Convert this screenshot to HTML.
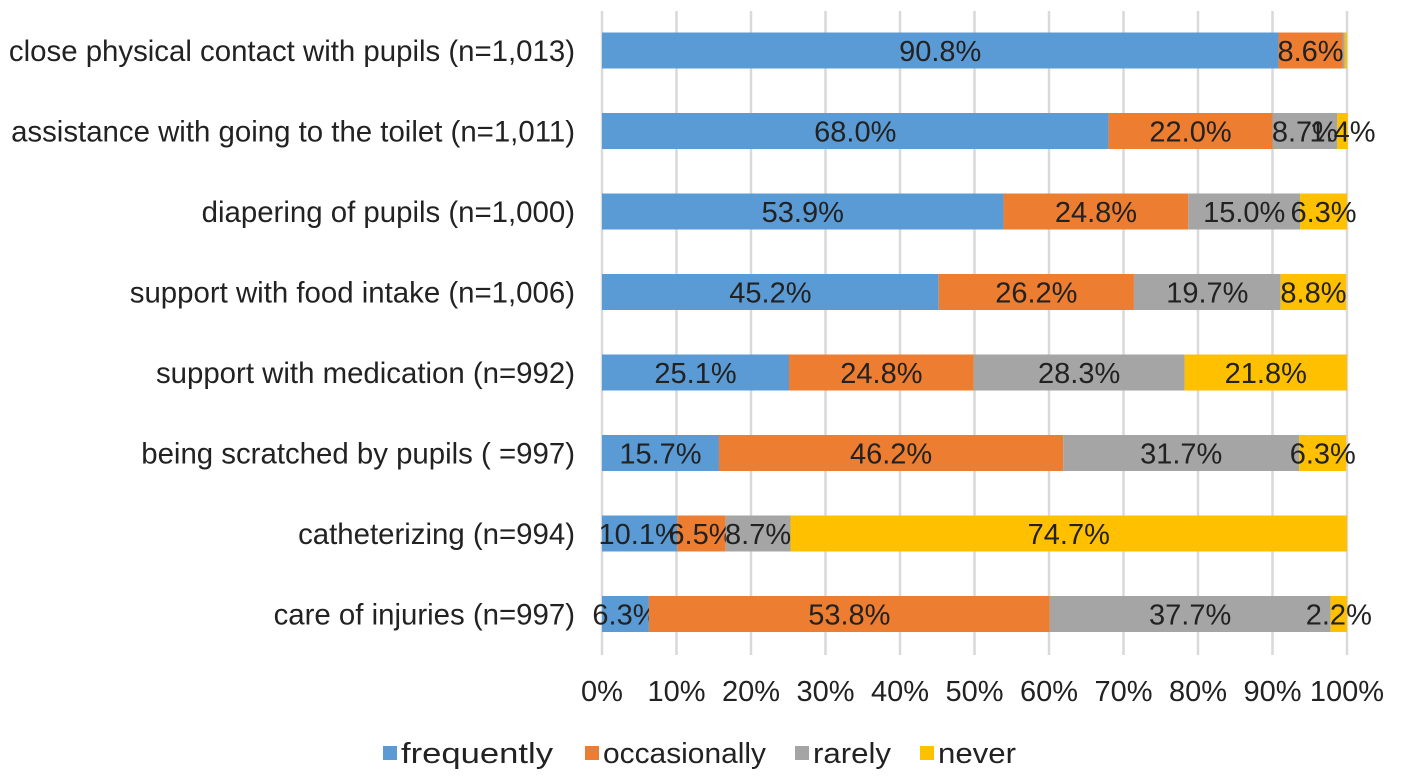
<!DOCTYPE html>
<html><head><meta charset="utf-8"><style>
html,body{margin:0;padding:0;background:#fff;}
svg{display:block;font-family:"Liberation Sans",Arial,sans-serif;}
</style></head><body>
<svg id="chart" width="1418" height="779" viewBox="0 0 1418 779"></svg>
<script>
const categories = ["close physical contact with pupils (n=1,013)","assistance with going to the toilet (n=1,011)","diapering of pupils (n=1,000)","support with food intake (n=1,006)","support with medication (n=992)","being scratched by pupils ( =997)","catheterizing (n=994)","care of injuries (n=997)"];
const frequently = [90.8,68.0,53.9,45.2,25.1,15.7,10.1,6.3];
const occasionally = [8.6,22.0,24.8,26.2,24.8,46.2,6.5,53.8];
const rarely = [0.3,8.7,15.0,19.7,28.3,31.7,8.7,37.7];
const never = [0.3,1.4,6.3,8.8,21.8,6.3,74.7,2.2];
const showLabel = [[true,true,false,false],[true,true,true,true],[true,true,true,true],[true,true,true,true],[true,true,true,true],[true,true,true,true],[true,true,true,true],[true,true,true,true]];
const seriesNames = ["frequently","occasionally","rarely","never"];
const tickValues = [0,10,20,30,40,50,60,70,80,90,100];

const colors = ["#5B9BD5","#ED7D31","#A5A5A5","#FFC000"];
const NS = "http://www.w3.org/2000/svg";
const svg = document.getElementById("chart");
const x0 = 602, x1 = 1347;
const xs = v => x0 + (x1 - x0) * v / 100;
const rowTop = 50.5, pitch = 80.5, barH = 36;
const yc = i => rowTop + i * pitch;
const FS = 29;
function mk(tag, attrs, parent){ const e=document.createElementNS(NS,tag); for(const k in attrs) e.setAttribute(k,attrs[k]); (parent||svg).appendChild(e); return e; }

tickValues.forEach((t,i)=>{
  const g = mk("line",{x1:xs(t),x2:xs(t),y1:11,y2:655,stroke:"#d9d9d9","stroke-width":2.5});
  
  
  const tl = mk("text",{x:xs(t),y:701,"text-anchor":"middle","font-size":FS,fill:"#222"});
  tl.textContent = t + "%";
  
  
});

const series = [frequently, occasionally, rarely, never];
categories.forEach((c,i)=>{
  const lab = mk("text",{x:575,y:yc(i)+10.5,"text-anchor":"end","font-size":29.4,fill:"#222"});
  lab.textContent = c;
  
  
  let acc = 0;
  series.forEach((s,k)=>{
    const v = s[i];
    const r = mk("rect",{x:xs(acc),y:yc(i)-barH/2,width:xs(acc+v)-xs(acc),height:barH,fill:colors[k]});
    
    
    if (showLabel[i][k]) {
      const t = mk("text",{x:(xs(acc)+xs(acc+v))/2,y:yc(i)+10.5,"text-anchor":"middle","font-size":FS,fill:"#222"});
      t.textContent = v.toFixed(1) + "%";
      
      
    }
    acc += v;
  });
});

const legX = [383,585,795,920];
const legW = [152,163,78,78];
seriesNames.forEach((n,k)=>{
  const g = mk("g",{});
  
  
  mk("rect",{x:legX[k],y:746,width:14,height:14,fill:colors[k]},g);
  const t = mk("text",{x:legX[k]+18,y:763,"font-size":FS,fill:"#222",textLength:legW[k],lengthAdjust:"spacingAndGlyphs"},g);
  t.textContent = n;
});
</script>
</body></html>
